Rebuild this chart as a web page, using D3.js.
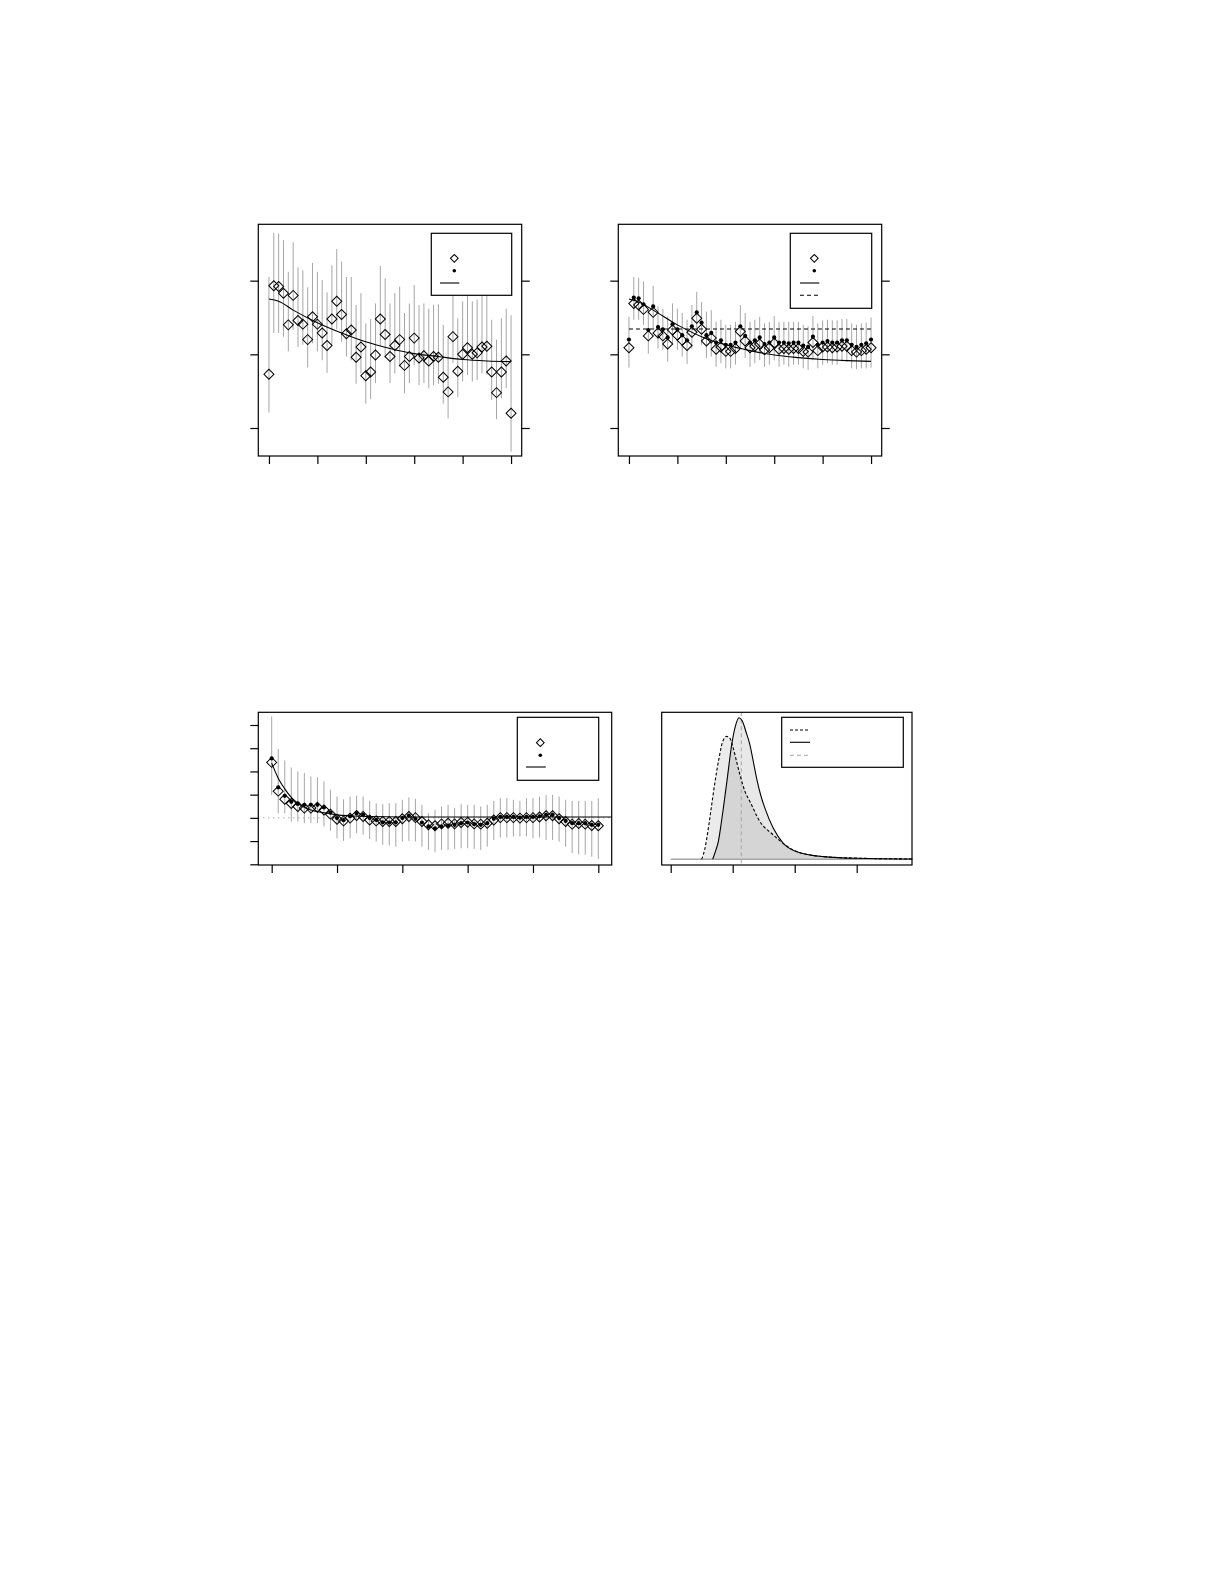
<!DOCTYPE html>
<html><head><meta charset="utf-8">
<script src="https://cdn.jsdelivr.net/npm/d3@7"></script>
<style>body{margin:0;background:#fff}svg{display:block}</style>
</head><body>
<svg id="c" width="1225" height="1585"></svg>
<script>
// ---------- DATA ----------
const idx = d3.range(51);                 // time index 0..50
const xTicks12 = [0,10,20,30,40,50];
const yTicks12 = [-1,0,1];
const xTicks3 = [0,10,20,30,40,50];
const yTicks3 = [-2,-1,0,1,2,3,4];
const xTicks4 = [0,1,2,3];

// Panel 1
const p1Obs = [-0.27,0.93,0.92,0.83,0.40,0.80,0.46,0.41,0.20,0.51,0.41,0.29,0.12,0.48,0.72,0.54,0.28,0.33,-0.04,0.10,-0.29,-0.24,-0.01,0.48,0.27,-0.03,0.12,0.20,-0.15,-0.03,0.22,-0.05,-0.02,-0.09,-0.03,-0.04,-0.31,-0.51,0.24,-0.23,0.00,0.09,0.00,0.02,0.10,0.11,-0.24,-0.52,-0.24,-0.09,-0.80];
const p1Hi = [1.05,1.65,1.64,1.55,1.12,1.52,1.18,1.14,0.91,1.24,1.12,1.01,0.84,1.21,1.43,1.26,1.05,1.05,0.67,0.83,0.42,0.48,0.69,1.20,1.03,0.69,0.83,0.92,0.56,0.69,0.94,0.67,0.69,0.62,0.67,0.68,0.40,0.22,0.96,0.49,0.72,0.81,0.72,0.74,0.83,0.81,0.47,0.20,0.49,0.62,0.53];
const p1Lo = [-0.79,0.29,0.29,0.24,0.04,0.33,0.10,0.13,-0.18,0.15,0.04,-0.08,-0.25,0.13,0.34,0.17,-0.03,-0.08,-0.40,-0.26,-0.67,-0.61,-0.39,0.11,-0.05,-0.39,-0.26,-0.17,-0.53,-0.39,-0.15,-0.42,-0.39,-0.46,-0.42,-0.40,-0.67,-0.87,-0.12,-0.58,-0.37,-0.28,-0.37,-0.35,-0.26,-0.28,-0.62,-0.88,-0.60,-0.46,-1.32];
const p1CurveT = [0,2,5,10,15,20,25,30,35,40,45,50];
const p1CurveV = [0.75,0.72,0.60,0.43,0.29,0.17,0.08,0.01,-0.03,-0.07,-0.09,-0.10];

// Panel 2
const p2Obs = [0.09,0.69,0.67,0.61,0.25,0.57,0.29,0.25,0.14,0.33,0.26,0.19,0.12,0.30,0.49,0.34,0.18,0.22,0.07,0.10,0.04,0.04,0.08,0.31,0.18,0.09,0.11,0.14,0.06,0.09,0.15,0.07,0.08,0.07,0.08,0.08,0.04,0.03,0.16,0.05,0.10,0.10,0.09,0.10,0.11,0.11,0.05,0.03,0.05,0.07,0.09];
const p2Est = [0.20,0.77,0.76,0.68,0.33,0.65,0.37,0.34,0.23,0.41,0.34,0.26,0.19,0.38,0.57,0.43,0.26,0.29,0.16,0.19,0.13,0.13,0.16,0.38,0.25,0.16,0.19,0.23,0.14,0.16,0.23,0.16,0.16,0.15,0.16,0.16,0.12,0.10,0.24,0.13,0.16,0.18,0.16,0.16,0.19,0.19,0.13,0.10,0.13,0.15,0.20];
const p2Hi = [0.51,1.05,1.04,0.99,0.60,0.93,0.65,0.62,0.51,0.69,0.62,0.56,0.47,0.67,0.85,0.71,0.58,0.60,0.44,0.47,0.40,0.40,0.44,0.67,0.56,0.44,0.47,0.51,0.42,0.44,0.52,0.44,0.44,0.44,0.44,0.44,0.40,0.38,0.52,0.42,0.46,0.47,0.46,0.46,0.48,0.48,0.42,0.40,0.42,0.43,0.50];
const p2Lo = [-0.18,0.47,0.47,0.40,0.01,0.35,0.08,0.06,-0.10,0.13,0.06,-0.03,-0.13,0.08,0.29,0.13,-0.05,-0.03,-0.17,-0.12,-0.19,-0.19,-0.14,0.08,-0.05,-0.17,-0.12,-0.08,-0.17,-0.14,-0.08,-0.17,-0.14,-0.17,-0.14,-0.14,-0.19,-0.21,-0.08,-0.19,-0.14,-0.12,-0.14,-0.14,-0.10,-0.10,-0.19,-0.20,-0.19,-0.19,-0.18];
const p2CurveT = [0,2,5,10,15,20,25,30,35,40,45,50];
const p2CurveV = [0.75,0.71,0.60,0.40,0.24,0.13,0.05,-0.01,-0.045,-0.07,-0.085,-0.095];
const p2Ref = 0.344;

// Panel 3
const p3Obs = [2.39,1.15,0.80,0.62,0.49,0.42,0.42,0.46,0.34,0.16,-0.06,-0.13,-0.01,0.10,0.06,-0.09,-0.13,-0.16,-0.16,-0.16,-0.04,0.06,0.01,-0.16,-0.30,-0.34,-0.26,-0.23,-0.26,-0.20,-0.19,-0.26,-0.27,-0.23,-0.09,0.01,0.01,0.01,-0.01,0.01,0.01,0.04,0.09,0.09,-0.04,-0.16,-0.27,-0.24,-0.27,-0.33,-0.34];
const p3Est = [2.56,1.31,0.95,0.69,0.60,0.56,0.56,0.56,0.45,0.23,-0.01,-0.10,0.07,0.19,0.13,-0.01,-0.09,-0.19,-0.20,-0.19,-0.01,0.10,-0.04,-0.20,-0.37,-0.45,-0.37,-0.33,-0.30,-0.23,-0.20,-0.27,-0.30,-0.23,-0.04,0.04,0.04,0.04,0.01,0.04,0.04,0.07,0.13,0.13,-0.01,-0.13,-0.23,-0.23,-0.23,-0.30,-0.30];
const p3Hi = [4.37,2.97,2.47,2.17,2.00,1.93,1.78,1.75,1.57,1.21,0.92,0.80,0.92,0.96,0.92,0.73,0.63,0.59,0.63,0.63,0.78,0.88,0.82,0.56,0.20,0.34,0.49,0.56,0.42,0.59,0.56,0.56,0.49,0.56,0.73,0.85,0.85,0.78,0.73,0.85,0.85,0.92,0.99,0.99,0.92,0.78,0.73,0.73,0.73,0.73,0.85];
const p3Lo = [0.99,0.20,0.20,-0.16,-0.16,-0.23,-0.23,-0.23,-0.37,-0.56,-0.88,-0.99,-0.88,-0.66,-0.73,-0.91,-1.02,-1.16,-1.19,-1.24,-1.02,-0.99,-1.02,-1.24,-1.38,-1.48,-1.38,-1.38,-1.34,-1.31,-1.31,-1.34,-1.38,-1.24,-0.95,-0.85,-0.85,-0.80,-0.80,-0.80,-0.88,-0.85,-0.95,-0.95,-1.02,-1.24,-1.52,-1.57,-1.59,-1.67,-1.77];
const p3CurveT = [0,1,2,3,4,5,6,8,10,12,15,20,30,40,52];
const p3CurveV = [2.36,1.71,1.25,0.88,0.63,0.46,0.34,0.22,0.13,0.09,0.06,0.04,0.04,0.04,0.04];
const p3Ref = 0;

// Panel 4 (densities)
const d4SolidX = [-0.01,0.677,0.73,0.768,0.811,0.849,0.913,0.983,1.048,1.101,1.155,1.214,1.279,1.333,1.386,1.451,1.521,1.655,1.817,2.032,2.462,3.0,3.9];
const d4SolidY = [0,0,0.066,0.125,0.242,0.36,0.572,0.807,0.948,1.0,0.976,0.901,0.807,0.689,0.572,0.454,0.36,0.219,0.113,0.054,0.019,0.007,0.002];
const d4DashX = [-0.01,0.499,0.553,0.607,0.661,0.715,0.779,0.838,0.902,0.956,1.01,1.064,1.118,1.199,1.279,1.44,1.655,1.924,2.193,2.731,3.9];
const d4DashY = [0,0,0.078,0.219,0.384,0.548,0.713,0.831,0.868,0.854,0.784,0.689,0.595,0.478,0.407,0.266,0.172,0.078,0.035,0.012,0.002];
const d4Mark = 1.139;

// ---------- DRAWING ----------
const svg = d3.select("#c");
const GRAY = "#a6a6a6";

function frame(x0, x1, y0, y1) {
  svg.append("rect").attr("x", x0).attr("y", y0).attr("width", x1 - x0).attr("height", y1 - y0)
    .attr("fill", "none").attr("stroke", "#000").attr("stroke-width", 1.2);
}
function axis(gen, tx, ty) {
  const g = svg.append("g").attr("transform", `translate(${tx},${ty})`).call(gen);
  g.select(".domain").remove();
  g.selectAll(".tick line").attr("stroke", "#000").attr("stroke-width", 1.2);
  g.selectAll("text").remove();
}
function diamonds(g, data, x, y, size) {
  g.selectAll(null).data(data).enter().append("path")
    .attr("d", d3.symbol(d3.symbolSquare, size)())
    .attr("transform", d => `translate(${x(d.t)},${y(d.v)}) rotate(45)`)
    .attr("fill", "none").attr("stroke", "#000").attr("stroke-width", 1);
}
function dots(g, data, x, y) {
  g.selectAll(null).data(data).enter().append("circle")
    .attr("cx", d => x(d.t)).attr("cy", d => y(d.v)).attr("r", 2.1).attr("fill", "#000");
}
function bars(g, lo, hi, x, y) {
  g.selectAll(null).data(idx).enter().append("line")
    .attr("x1", i => x(i)).attr("x2", i => x(i))
    .attr("y1", i => y(lo[i])).attr("y2", i => y(hi[i]))
    .attr("stroke", GRAY).attr("stroke-width", 1);
}
function curve(g, ts, vs, x, y, dash) {
  const line = d3.line().x(d => x(d[0])).y(d => y(d[1])).curve(d3.curveMonotoneX);
  g.append("path").attr("d", line(ts.map((t, i) => [t, vs[i]])))
    .attr("fill", "none").attr("stroke", "#000").attr("stroke-width", 1.1)
    .attr("stroke-dasharray", dash || null);
}
function legendBox(x0, y0, x1, y1) {
  svg.append("rect").attr("x", x0).attr("y", y0).attr("width", x1 - x0).attr("height", y1 - y0)
    .attr("fill", "#fff").attr("stroke", "#000").attr("stroke-width", 1.2);
}

// ---- Panel 1 & 2 (share layout) ----
function panel12(offset, obs, est, lo, hi, cT, cV, ref, legendDashed) {
  const L = 258.3 + offset, R = 521.7 + offset, T = 224.3, B = 456;
  const x = d3.scaleLinear().domain([-2.2, 52.2]).range([L, R]);
  const y = d3.scaleLinear().domain([-1.38, 1.765]).range([B, T]);
  const g = svg.append("g");
  bars(g, lo, hi, x, y);
  if (ref !== null) {
    g.append("line").attr("x1", x(0)).attr("x2", x(50)).attr("y1", y(ref)).attr("y2", y(ref))
      .attr("stroke", "#000").attr("stroke-width", 1.1).attr("stroke-dasharray", "4,3");
  }
  curve(g, cT, cV, x, y);
  if (est) dots(g, idx.map(i => ({t: i, v: est[i]})), x, y);
  diamonds(g, idx.map(i => ({t: i, v: obs[i]})), x, y, 50);
  frame(L, R, T, B);
  axis(d3.axisBottom(x).tickValues(xTicks12).tickSize(8).tickFormat(""), 0, B);
  axis(d3.axisLeft(y).tickValues(yTicks12).tickSize(8).tickFormat(""), L, 0);
  axis(d3.axisRight(y).tickValues(yTicks12).tickSize(8).tickFormat(""), R, 0);
  // legend
  const lx0 = legendDashed ? 790.3 - 360 + offset : 431.3 + offset;
  const ly1 = legendDashed ? 308.3 : 295.3;
  legendBox(lx0, 233.3, 511.7 + offset, ly1);
  const cx = 454.3 + offset;
  svg.append("path").attr("d", d3.symbol(d3.symbolSquare, 30)())
    .attr("transform", `translate(${cx},258.3) rotate(45)`).attr("fill", "none").attr("stroke", "#000");
  svg.append("circle").attr("cx", cx).attr("cy", 270.7).attr("r", 1.8).attr("fill", "#000");
  svg.append("line").attr("x1", 440 + offset).attr("x2", 459.3 + offset).attr("y1", 283).attr("y2", 283)
    .attr("stroke", "#000").attr("stroke-width", 1.1);
  if (legendDashed) {
    svg.append("line").attr("x1", 440 + offset).attr("x2", 459.3 + offset).attr("y1", 295.3).attr("y2", 295.3)
      .attr("stroke", "#000").attr("stroke-width", 1.1).attr("stroke-dasharray", "4,3");
  }
}
panel12(0, p1Obs, null, p1Lo, p1Hi, p1CurveT, p1CurveV, null, false);
panel12(360, p2Obs, p2Est, p2Lo, p2Hi, p2CurveT, p2CurveV, p2Ref, true);

// ---- Panel 3 ----
(function () {
  const L = 258.3, R = 611.7, T = 712.3, B = 865;
  const x = d3.scaleLinear().domain([-2.05, 52.05]).range([L, R]);
  const y = d3.scaleLinear().domain([-2, 4]).range([864.3, 725]);
  const g = svg.append("g");
  g.append("line").attr("x1", L).attr("x2", R).attr("y1", y(p3Ref)).attr("y2", y(p3Ref))
    .attr("stroke", "#888").attr("stroke-width", 1).attr("stroke-dasharray", "1,4");
  bars(g, p3Lo, p3Hi, x, y);
  curve(g, p3CurveT, p3CurveV, x, y);
  dots(g, idx.map(i => ({t: i, v: p3Est[i]})), x, y);
  diamonds(g, idx.map(i => ({t: i, v: p3Obs[i]})), x, y, 50);
  frame(L, R, T, B);
  axis(d3.axisBottom(x).tickValues(xTicks3).tickSize(8).tickFormat(""), 0, B);
  axis(d3.axisLeft(y).tickValues(yTicks3).tickSize(8).tickFormat(""), L, 0);
  legendBox(517.3, 717.3, 598.7, 780.3);
  svg.append("path").attr("d", d3.symbol(d3.symbolSquare, 30)())
    .attr("transform", "translate(540.3,742.7) rotate(45)").attr("fill", "none").attr("stroke", "#000");
  svg.append("circle").attr("cx", 540.3).attr("cy", 755.3).attr("r", 1.8).attr("fill", "#000");
  svg.append("line").attr("x1", 526).attr("x2", 545.7).attr("y1", 767).attr("y2", 767)
    .attr("stroke", "#000").attr("stroke-width", 1.1);
})();

// ---- Panel 4 ----
(function () {
  const L = 661.7, R = 912, T = 712.3, B = 865;
  const x = d3.scaleLinear().domain([-0.145, (912 - 670.7) / 62]).range([L, R]);
  const y = d3.scaleLinear().domain([0, 1]).range([859.3, 717.7]);
  const g = svg.append("g");
  const area = d3.area().x(d => x(d[0])).y0(y(0)).y1(d => y(d[1])).curve(d3.curveMonotoneX);
  const line = d3.line().x(d => x(d[0])).y(d => y(d[1])).curve(d3.curveMonotoneX);
  const dashPts = d4DashX.map((v, i) => [v, d4DashY[i]]);
  const solidPts = d4SolidX.map((v, i) => [v, d4SolidY[i]]);
  g.append("path").attr("d", area(dashPts)).attr("fill", "rgba(0,0,0,0.08)");
  g.append("path").attr("d", area(solidPts)).attr("fill", "rgba(0,0,0,0.09)");
  g.append("line").attr("x1", x(0)).attr("x2", R).attr("y1", y(0)).attr("y2", y(0))
    .attr("stroke", GRAY).attr("stroke-width", 1.5);
  g.append("line").attr("x1", x(d4Mark)).attr("x2", x(d4Mark)).attr("y1", T).attr("y2", B)
    .attr("stroke", GRAY).attr("stroke-width", 1).attr("stroke-dasharray", "4,3");
  g.append("path").attr("d", line(dashPts.filter(d => d[1] > 0 || d[0] > 0.4)))
    .attr("fill", "none").attr("stroke", "#000").attr("stroke-width", 1.1).attr("stroke-dasharray", "3,2");
  g.append("path").attr("d", line(solidPts.filter(d => d[1] > 0 || d[0] > 0.4)))
    .attr("fill", "none").attr("stroke", "#000").attr("stroke-width", 1.1);
  frame(L, R, T, B);
  axis(d3.axisBottom(x).tickValues(xTicks4).tickSize(8).tickFormat(""), 0, B);
  legendBox(781.7, 717.3, 903.3, 767.3);
  svg.append("line").attr("x1", 790).attr("x2", 810).attr("y1", 730).attr("y2", 730)
    .attr("stroke", "#000").attr("stroke-width", 1.1).attr("stroke-dasharray", "3,2");
  svg.append("line").attr("x1", 790).attr("x2", 810).attr("y1", 742.3).attr("y2", 742.3)
    .attr("stroke", "#000").attr("stroke-width", 1.1);
  svg.append("line").attr("x1", 790).attr("x2", 810).attr("y1", 755.3).attr("y2", 755.3)
    .attr("stroke", GRAY).attr("stroke-width", 1).attr("stroke-dasharray", "4,3");
})();
</script>
</body></html>
